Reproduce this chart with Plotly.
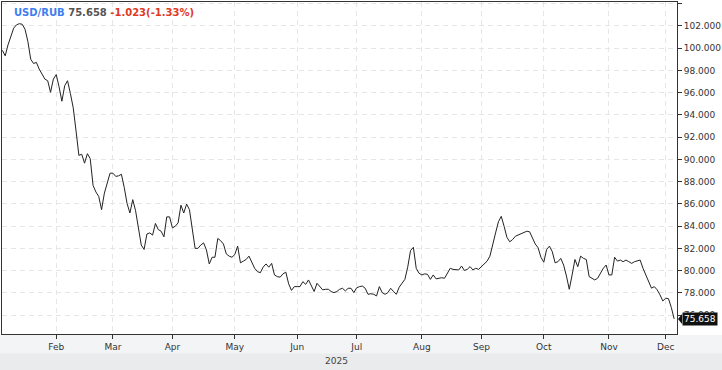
import pandas as pd
import plotly.graph_objects as go

# ---- data -------------------------------------------------------------
start_date = "2025-01-07"
end_date = "2025-12-04"
dates = pd.bdate_range(start_date, end_date)

usd_rub = [
    99.81, 99.31, 100.3, 101.1, 101.8, 102.1, 102.2, 102.15, 101.7, 100.6,
    99.01, 98.62, 98.72, 98.12, 97.62, 97.22, 97.07, 96.03, 97.22, 97.62,
    96.53, 95.23, 96.63, 97.07, 95.93, 94.64, 92.55, 90.36, 90.46, 89.66,
    90.51, 90.06, 87.67, 87.07, 86.67, 85.48, 86.97, 87.97, 88.76, 88.76,
    88.47, 88.52, 88.66, 87.47, 86.03, 85.18, 86.38, 85.38, 83.99, 82.30,
    81.90, 83.29, 83.39, 83.19, 84.24, 83.69, 83.54, 83.04, 84.83, 84.83,
    83.84, 83.99, 84.29, 85.88, 85.18, 85.98, 85.48, 83.89, 82.00, 82.00,
    82.30, 82.49, 81.85, 80.60, 81.20, 81.20, 82.89, 82.69, 82.39, 81.50,
    81.30, 81.20, 81.45, 82.20, 80.70, 80.85, 81.00, 81.30, 80.70, 80.21,
    79.91, 79.81, 80.31, 80.60, 80.31, 80.65, 79.61, 79.46, 79.41, 79.71,
    79.86, 78.81, 78.22, 78.56, 78.56, 78.56, 79.01, 78.76, 79.16, 78.61,
    78.12, 78.86, 78.51, 78.27, 78.32, 78.32, 78.12, 78.02, 78.12, 78.32,
    78.41, 78.17, 78.41, 78.41, 78.02, 78.46, 78.56, 78.61, 78.41, 77.87,
    77.92, 77.87, 77.72, 78.56, 78.02, 77.87, 78.02, 78.41, 78.12, 77.87,
    78.51, 78.81, 79.21, 80.31, 81.80, 82.10, 80.21, 79.76, 79.61, 79.71,
    79.66, 79.21, 79.61, 79.26, 79.31, 79.36, 79.31, 79.76, 80.21, 80.11,
    80.06, 80.06, 80.41, 80.01, 80.11, 80.36, 80.06, 80.21, 80.11, 80.36,
    80.60, 80.85, 81.30, 82.44, 83.39, 84.39, 84.88, 83.99, 82.99, 82.59,
    82.79, 83.09, 83.19, 83.34, 83.39, 83.54, 83.49, 82.89, 82.39, 82.05,
    81.20, 80.75, 81.90, 82.20, 81.70, 80.70, 80.80, 81.10, 80.50, 79.51,
    78.32, 79.61, 81.00, 80.35, 81.30, 81.10, 81.00, 79.46, 79.31, 79.16,
    79.31, 79.81, 80.21, 80.50, 79.61, 79.61, 81.20, 80.85, 80.95, 80.80,
    80.95, 80.80, 80.65, 80.80, 80.90, 80.95, 80.21, 79.61, 78.91, 78.42,
    78.56, 78.27, 77.82, 77.27, 77.52, 77.47, 76.681, 75.658,
]
assert len(usd_rub) == len(dates), (len(usd_rub), len(dates))

month_tick_dates = ["2025-02-03", "2025-03-03", "2025-04-01", "2025-05-01",
                    "2025-06-02", "2025-07-01", "2025-08-01", "2025-09-01",
                    "2025-10-01", "2025-11-03", "2025-12-01"]
month_labels = ["Feb", "Mar", "Apr", "May", "Jun", "Jul", "Aug", "Sep",
                "Oct", "Nov", "Dec"]
year_label = "2025"
symbol = "USD/RUB"
last_value = 75.658
change_text = "-1.023(-1.33%)"

# ---- figure -----------------------------------------------------------
FONT = "DejaVu Sans"
AXIS_COL = "#333333"
GRID_COL = "#e6e6e6"

fig = go.Figure(
    go.Scatter(x=dates, y=usd_rub, mode="lines",
               line=dict(color="#222222", width=1),
               hoverinfo="skip")
)

fig.update_layout(
    width=722, height=370,
    margin=dict(l=1, r=40, t=1, b=36, pad=0),
    paper_bgcolor="white", plot_bgcolor="white",
    showlegend=False,
    font=dict(family=FONT, size=9, color=AXIS_COL),
)

fig.update_xaxes(
    type="date",
    range=["2025-01-06 21:00", "2025-12-05 00:00"],
    rangebreaks=[dict(bounds=["sat", "mon"])],
    tickmode="array", tickvals=month_tick_dates, ticktext=month_labels,
    ticks="outside", ticklen=4, tickcolor=AXIS_COL, tickwidth=1,
    showline=True, linecolor=AXIS_COL, linewidth=1, mirror=True,
    showgrid=True, gridcolor=GRID_COL, gridwidth=1, griddash="5px,4px",
    zeroline=False,
    tickfont=dict(family=FONT, size=9, color=AXIS_COL),
)

fig.update_yaxes(
    side="right",
    range=[74.30, 104.15],
    tickmode="linear", tick0=76, dtick=2, tickformat=".3f",
    ticks="outside", ticklen=4, tickcolor=AXIS_COL, tickwidth=1,
    showline=True, linecolor=AXIS_COL, linewidth=1, mirror=True,
    showgrid=True, gridcolor=GRID_COL, gridwidth=1, griddash="5px,4px",
    zeroline=False,
    tickfont=dict(family=FONT, size=9, color=AXIS_COL),
)

# bottom bands (month labels strip and year strip)
fig.add_shape(type="rect", xref="paper", yref="paper",
              x0=-0.01, x1=1.07, y0=-0.058, y1=-0.003,
              fillcolor="#f3f4f6", line=dict(width=0), layer="below")
fig.add_shape(type="rect", xref="paper", yref="paper",
              x0=-0.01, x1=1.07, y0=-0.115, y1=-0.058,
              fillcolor="#eaebed", line=dict(width=0), layer="below")

fig.add_annotation(text=year_label, xref="paper", yref="paper",
                   x=0.495, y=-0.082, xanchor="center", yanchor="middle",
                   showarrow=False,
                   font=dict(family=FONT, size=9, color="#444444"))

# header
header = (f'<span style="color:#3f7ef0">{symbol}</span> '
          f'<span style="color:#555555">{last_value:.3f}</span> '
          f'<span style="color:#e0391f">{change_text}</span>')
fig.add_annotation(text=f"<b>{header}</b>", xref="paper", yref="paper",
                   x=0.0147, y=0.968, xanchor="left", yanchor="middle",
                   showarrow=False,
                   font=dict(family=FONT, size=10, color="#555555"))

# last value marker
fig.add_annotation(text=f"{last_value:.3f}", xref="paper", yref="y",
                   x=1, y=last_value, xanchor="left", yanchor="middle",
                   xshift=5, showarrow=False, bgcolor="#111111", borderpad=1,
                   font=dict(family=FONT, size=9, color="white"))
fig.add_shape(type="path", xref="paper", yref="y",
              path=f"M 1.0015,{last_value} L 1.0075,{last_value + 0.45} "
                   f"L 1.0075,{last_value - 0.45} Z",
              fillcolor="#111111", line=dict(width=0), layer="above")

fig.write_html("out.html")
